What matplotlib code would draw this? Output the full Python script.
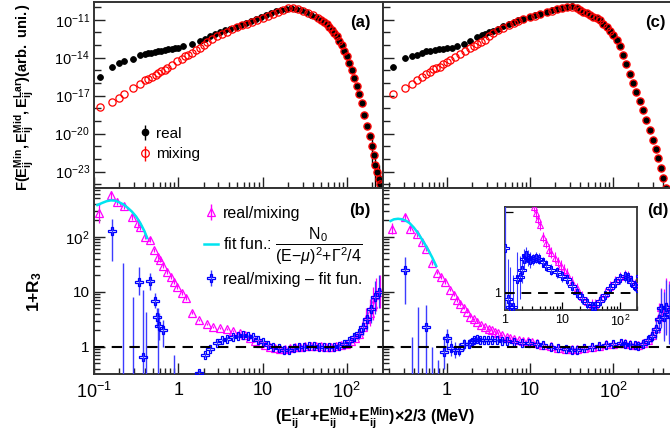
import numpy as np
import matplotlib
matplotlib.use("Agg")
import matplotlib.pyplot as plt
from matplotlib.ticker import FixedLocator, FixedFormatter, NullFormatter
from matplotlib.lines import Line2D

plt.rcParams["font.family"] = ["Liberation Sans", "DejaVu Sans"]
plt.rcParams["mathtext.fontset"] = "custom"
plt.rcParams["mathtext.rm"] = "Liberation Sans"
plt.rcParams["mathtext.it"] = "Liberation Sans:italic"
plt.rcParams["mathtext.bf"] = "Liberation Sans:bold"
plt.rcParams["mathtext.sf"] = "Liberation Sans"

# ---------------- data (log10 of energy in MeV, log10 of value) ----------------
# panel (a): F vs E, real and mixing
a_real_logE = [-0.93, -0.79, -0.70, -0.64, -0.54, -0.45, -0.40, -0.36, -0.32, -0.28,
               -0.24, -0.20, -0.16, -0.12, -0.08, -0.04, 0.00, 0.06, 0.16, 0.26,
               0.32, 0.38, 0.44, 0.50, 0.56, 0.62, 0.68, 0.74, 0.80, 0.86,
               0.92, 0.98, 1.04, 1.10, 1.16, 1.22, 1.28, 1.34, 1.40, 1.46,
               1.52, 1.58, 1.64, 1.70, 1.73, 1.76, 1.79, 1.82, 1.85, 1.88,
               1.91, 1.94, 1.97, 2.00, 2.03, 2.06, 2.09, 2.12, 2.15, 2.18,
               2.21, 2.24, 2.27, 2.30, 2.32, 2.34, 2.36, 2.38, 2.40]
a_real_logF = [-15.5, -14.7, -14.4, -14.3, -14.1, -13.8, -13.7, -13.65, -13.6, -13.55,
               -13.5, -13.45, -13.4, -13.35, -13.3, -13.25, -13.2, -13.1, -12.9, -12.7,
               -12.5, -12.3, -12.15, -12.0, -11.85, -11.7, -11.55, -11.4, -11.25, -11.1,
               -10.95, -10.8, -10.65, -10.5, -10.35, -10.25, -10.15, -10.1, -10.12, -10.25,
               -10.4, -10.6, -10.8, -11.0, -11.15, -11.3, -11.55, -11.8, -12.05, -12.3,
               -12.65, -13.0, -13.45, -13.9, -14.45, -15.0, -15.6, -16.2, -16.9, -17.6,
               -18.5, -19.4, -20.2, -21.0, -21.7, -22.5, -23.0, -23.6, -24.0]
a_mix_logE = [-0.93, -0.79, -0.70, -0.64, -0.54, -0.45, -0.40, -0.36, -0.31, -0.27,
              -0.24, -0.20, -0.16, -0.13, -0.08, -0.02, 0.04, 0.08, 0.12, 0.16,
              0.21, 0.26, 0.30, 0.34, 0.40, 0.46, 0.52, 0.58, 0.64, 0.70,
              0.76, 0.82, 0.88, 0.94, 1.00, 1.06, 1.12, 1.18, 1.24, 1.30,
              1.36, 1.42, 1.48, 1.54, 1.60, 1.66, 1.70, 1.73, 1.76, 1.79,
              1.82, 1.85, 1.88, 1.91, 1.94, 1.97, 2.00, 2.03, 2.06, 2.09,
              2.12, 2.15, 2.18, 2.21, 2.24, 2.27, 2.30, 2.32, 2.34, 2.36, 2.38, 2.40]
a_mix_logF = [-17.9, -17.5, -17.2, -16.9, -16.4, -16.1, -15.8, -15.65, -15.5, -15.35,
              -15.2, -15.05, -14.95, -14.8, -14.6, -14.3, -14.1, -13.9, -13.75, -13.6,
              -13.4, -13.2, -13.0, -12.8, -12.55, -12.3, -12.1, -12.0, -11.75, -11.6,
              -11.45, -11.3, -11.15, -11.0, -10.85, -10.7, -10.55, -10.4, -10.2, -10.1,
              -10.1, -10.15, -10.3, -10.45, -10.65, -10.85, -11.0, -11.15, -11.3, -11.55,
              -11.8, -12.05, -12.3, -12.65, -13.0, -13.45, -13.9, -14.45, -15.0, -15.6,
              -16.2, -16.9, -17.6, -18.5, -19.4, -20.2, -21.0, -21.7, -22.5, -23.0, -23.6, -24.0]
a_tail_logE = [2.30, 2.34, 2.38, 2.40]
a_tail_logLo = [-22.5, -24.5, -24.5, -24.5]
a_tail_logHi = [-20.0, -21.5, -22.5, -23.0]

# panel (c)
c_real_logE = [-0.65, -0.51, -0.42, -0.36, -0.30, -0.25, -0.20, -0.15, -0.10, -0.05,
               0.00, 0.06, 0.12, 0.20, 0.28, 0.36, 0.42, 0.46, 0.51, 0.55,
               0.61, 0.67, 0.74, 0.80, 0.86, 0.92, 1.00, 1.06, 1.12, 1.20,
               1.26, 1.32, 1.38, 1.44, 1.50, 1.56, 1.60, 1.64, 1.68, 1.72,
               1.76, 1.80, 1.84, 1.88, 1.92, 1.96, 2.00, 2.04, 2.08, 2.12,
               2.16, 2.20, 2.24, 2.28, 2.32, 2.36, 2.40, 2.44, 2.48, 2.51,
               2.54, 2.57, 2.60, 2.63]
c_real_logF = [-14.7, -14.0, -13.9, -13.8, -13.65, -13.5, -13.45, -13.4, -13.35, -13.3,
               -13.25, -13.2, -13.1, -12.9, -12.7, -12.4, -12.2, -12.1, -12.0, -11.9,
               -11.7, -11.5, -11.35, -11.2, -11.05, -10.95, -10.8, -10.65, -10.55, -10.4,
               -10.25, -10.15, -10.05, -9.97, -9.95, -10.05, -10.2, -10.4, -10.5, -10.65,
               -10.75, -10.85, -11.0, -11.3, -11.6, -11.9, -12.2, -12.6, -13.1, -13.8,
               -14.5, -15.3, -16.0, -16.7, -17.4, -18.1, -18.9, -19.7, -20.5, -21.2,
               -21.9, -22.7, -23.5, -24.3]
c_mix_logE = [-0.65, -0.51, -0.42, -0.36, -0.30, -0.25, -0.21, -0.17, -0.13, -0.09,
              -0.05, 0.00, 0.04, 0.10, 0.16, 0.22, 0.28, 0.32, 0.36, 0.41,
              0.46, 0.51, 0.55, 0.61, 0.67, 0.74, 0.80, 0.86, 0.92, 1.00,
              1.06, 1.12, 1.20, 1.26, 1.32, 1.38, 1.44, 1.50, 1.56, 1.60,
              1.64, 1.68, 1.72, 1.76, 1.80, 1.84, 1.88, 1.92, 1.96, 2.00,
              2.04, 2.08, 2.12, 2.16, 2.20, 2.24, 2.28, 2.32, 2.36, 2.40,
              2.44, 2.48, 2.51, 2.54, 2.57, 2.60, 2.63]
c_mix_logF = [-16.9, -16.4, -16.1, -15.8, -15.55, -15.3, -15.1, -14.9, -14.8, -14.7,
              -14.5, -14.35, -14.2, -13.95, -13.7, -13.45, -13.2, -13.05, -12.9, -12.75,
              -12.6, -12.3, -12.05, -11.85, -11.65, -11.42, -11.25, -11.1, -10.98, -10.82,
              -10.68, -10.56, -10.42, -10.28, -10.17, -10.06, -9.97, -9.96, -10.05, -10.2,
              -10.4, -10.5, -10.65, -10.75, -10.85, -11.0, -11.3, -11.6, -11.9, -12.2,
              -12.6, -13.1, -13.8, -14.5, -15.3, -16.0, -16.7, -17.4, -18.1, -18.9,
              -19.7, -20.5, -21.2, -21.9, -22.7, -23.5, -24.3]

# panel (b): 1+R3 (real/mixing), fit, and real/mixing - fit
b_ratio_logE = [-0.94, -0.80, -0.73, -0.64, -0.55, -0.48, -0.45, -0.40, -0.33, -0.29,
                -0.24, -0.22, -0.18, -0.13, -0.09, -0.05, -0.02, 0.04, 0.09, 0.16,
                0.25, 0.34, 0.41, 0.49, 0.58, 0.65, 0.73, 0.79, 0.85, 0.91,
                0.97, 1.03, 1.09, 1.15, 1.21, 1.27, 1.33, 1.39, 1.45, 1.51,
                1.57, 1.63, 1.69, 1.75, 1.81, 1.87, 1.93, 1.99, 2.05, 2.10,
                2.15, 2.19, 2.23, 2.27, 2.31, 2.35, 2.39]
b_ratio_logV = [2.44, 2.76, 2.64, 2.56, 2.36, 2.25, 2.18, 2.00, 1.95, 1.76,
                1.64, 1.58, 1.47, 1.36, 1.27, 1.18, 1.09, 0.98, 0.89, 0.62,
                0.49, 0.42, 0.36, 0.34, 0.33, 0.29, 0.25, 0.21, 0.16, 0.11,
                0.07, 0.03, 0.00, -0.02, -0.04, -0.04, -0.03, -0.01, 0.00, 0.01,
                0.02, 0.02, 0.01, 0.00, 0.00, 0.01, 0.03, 0.06, 0.10, 0.16,
                0.24, 0.36, 0.50, 0.62, 0.78, 0.95, 1.00]
b_ratio_dlog = [0.18, 0.07, 0.06, 0.06, 0.05, 0.05, 0.05, 0.04, 0.04, 0.04,
                0.04, 0.04, 0.03, 0.03, 0.03, 0.03, 0.03, 0.03, 0.03, 0.03,
                0.02, 0.02, 0.02, 0.02, 0.02, 0.02, 0.02, 0.02, 0.02, 0.02,
                0.02, 0.02, 0.02, 0.02, 0.02, 0.02, 0.02, 0.02, 0.02, 0.02,
                0.02, 0.02, 0.02, 0.02, 0.02, 0.02, 0.03, 0.04, 0.05, 0.07,
                0.10, 0.15, 0.20, 0.25, 0.30, 0.30, 0.30]
b_fit_logE = [-0.96, -0.90, -0.85, -0.80, -0.75, -0.70, -0.65, -0.60, -0.55, -0.50,
              -0.45, -0.40, -0.37]
b_fit_logV = [2.58, 2.62, 2.65, 2.665, 2.66, 2.63, 2.59, 2.53, 2.46, 2.37,
              2.25, 2.10, 1.98]
b_diff_logE = [0.25, 0.32, 0.38, 0.46, 0.52, 0.58, 0.65, 0.71, 0.77, 0.83,
               0.89, 0.95, 1.01, 1.07, 1.13, 1.19, 1.25, 1.31, 1.37, 1.43,
               1.49, 1.55, 1.61, 1.67, 1.73, 1.79, 1.85, 1.91, 1.97, 2.03,
               2.09, 2.14, 2.19, 2.24, 2.29, 2.34, 2.38]
b_diff_logV = [-0.47, -0.15, -0.04, 0.07, 0.12, 0.15, 0.18, 0.20, 0.21, 0.20,
               0.18, 0.12, 0.08, 0.04, 0.00, -0.03, -0.05, -0.05, -0.03, -0.01,
               0.00, 0.01, 0.01, 0.00, -0.01, -0.01, 0.00, 0.02, 0.05, 0.10,
               0.18, 0.25, 0.36, 0.50, 0.68, 0.90, 1.00]
b_diff_dlog = [0.05, 0.04, 0.03, 0.03, 0.02, 0.02, 0.02, 0.02, 0.02, 0.02,
               0.02, 0.02, 0.02, 0.02, 0.02, 0.02, 0.02, 0.02, 0.02, 0.02,
               0.02, 0.02, 0.02, 0.02, 0.02, 0.02, 0.03, 0.03, 0.04, 0.05,
               0.07, 0.10, 0.15, 0.20, 0.25, 0.30, 0.30]
b_sparse_logE = [-0.79, -0.47, -0.42, -0.33, -0.28, -0.25, -0.23, -0.18]
b_sparse_logV = [2.11, 1.18, -0.18, 1.20, 0.84, 0.55, 0.38, 0.31]
b_sparse_logHi = [2.33, 1.45, 1.04, 1.35, 0.98, 0.71, 0.62, 0.49]
b_sparse_logLo = [1.56, 0.95, -0.60, 1.04, 0.71, 0.36, 0.13, 0.00]
b_offscale_logE = [-0.65, -0.54, -0.38, -0.24, -0.05]
b_offscale_logHi = [1.53, 0.91, 0.64, 0.71, -0.15]

# panel (d)
d_ratio_logE = [-0.66, -0.51, -0.45, -0.36, -0.30, -0.25, -0.18, -0.12, -0.07, -0.02,
                0.04, 0.08, 0.12, 0.16, 0.20, 0.24, 0.28, 0.32, 0.36, 0.41,
                0.46, 0.50, 0.54, 0.58, 0.61, 0.66, 0.72, 0.76, 0.81, 0.87,
                0.92, 0.97, 1.02, 1.08, 1.16, 1.25, 1.34, 1.43, 1.51, 1.57,
                1.65, 1.74, 1.83, 1.91, 2.00, 2.09, 2.14, 2.20, 2.26, 2.30,
                2.36, 2.42, 2.47, 2.51, 2.55, 2.58, 2.61, 2.64, 2.67]
d_ratio_logV = [2.15, 2.36, 2.15, 2.05, 1.90, 1.78, 1.53, 1.35, 1.27, 1.18,
                1.04, 0.95, 0.85, 0.78, 0.71, 0.63, 0.55, 0.50, 0.45, 0.40,
                0.36, 0.32, 0.297, 0.275, 0.253, 0.208, 0.185, 0.161, 0.149, 0.130,
                0.114, 0.100, 0.085, 0.070, 0.040, 0.015, -0.015, -0.035, -0.045, -0.045,
                -0.025, -0.005, 0.022, 0.042, 0.058, 0.066, 0.062, 0.046, 0.030, 0.025,
                0.07, 0.13, 0.22, 0.35, 0.55, 0.72, 0.60, 0.75, 0.65]
d_ratio_dlog = [0.10, 0.06, 0.05, 0.05, 0.04, 0.04, 0.04, 0.03, 0.03, 0.03,
                0.03, 0.03, 0.03, 0.03, 0.03, 0.02, 0.02, 0.02, 0.02, 0.02,
                0.02, 0.02, 0.02, 0.02, 0.02, 0.02, 0.02, 0.02, 0.02, 0.02,
                0.02, 0.02, 0.02, 0.02, 0.02, 0.02, 0.02, 0.02, 0.02, 0.02,
                0.02, 0.02, 0.02, 0.02, 0.02, 0.02, 0.02, 0.02, 0.02, 0.02,
                0.04, 0.07, 0.12, 0.18, 0.25, 0.35, 0.45, 0.50, 0.55]
d_fit_logE = [-0.68, -0.64, -0.59, -0.54, -0.49, -0.45, -0.40, -0.35, -0.30, -0.24,
              -0.18, -0.13]
d_fit_logV = [2.29, 2.32, 2.33, 2.32, 2.29, 2.25, 2.17, 2.07, 1.95, 1.80,
              1.63, 1.47]
d_diff_logE = [0.05, 0.09, 0.14, 0.21, 0.26, 0.30, 0.33, 0.36, 0.40, 0.44,
               0.49, 0.54, 0.60, 0.66, 0.72, 0.81, 0.90, 0.99, 1.08, 1.16,
               1.25, 1.34, 1.43, 1.51, 1.57, 1.65, 1.74, 1.83, 1.91, 2.00,
               2.09, 2.14, 2.20, 2.26, 2.30, 2.36, 2.42, 2.47, 2.51, 2.55,
               2.58, 2.61, 2.64, 2.67]
d_diff_logV = [-0.026, -0.055, -0.055, 0.050, 0.057, 0.086, 0.124, 0.140, 0.130, 0.120,
               0.124, 0.130, 0.127, 0.114, 0.100, 0.086, 0.075, 0.061, 0.049, 0.025,
               0.000, -0.022, -0.041, -0.050, -0.050, -0.030, -0.010, 0.017, 0.037, 0.053,
               0.061, 0.057, 0.041, 0.025, 0.017, 0.06, 0.12, 0.20, 0.33, 0.50,
               0.70, 0.55, 0.72, 0.60]
d_diff_dlog = [0.15, 0.15, 0.12, 0.10, 0.08, 0.05, 0.04, 0.03, 0.03, 0.03,
               0.02, 0.02, 0.02, 0.02, 0.02, 0.02, 0.02, 0.02, 0.02, 0.02,
               0.02, 0.02, 0.02, 0.02, 0.02, 0.02, 0.02, 0.02, 0.02, 0.02,
               0.02, 0.02, 0.02, 0.02, 0.02, 0.04, 0.07, 0.12, 0.18, 0.25,
               0.35, 0.45, 0.50, 0.55]
d_sparse_logE = [-0.51, -0.25, -0.04, 0.00]
d_sparse_logV = [1.40, 0.36, -0.09, 0.166]
d_sparse_logHi = [1.64, 0.76, 0.20, 0.33]
d_sparse_logLo = [0.78, -0.60, -0.40, -0.06]
d_offscale_logE = [-0.42, -0.35, -0.18, -0.11]
d_offscale_logHi = [0.18, 0.73, 0.00, -0.24]

x_ticks = [0.1, 1, 10, 100]
x_ticklabels = [r"$10^{-1}$", "1", "10", r"$10^{2}$"]
ratio_ticks = [1, 10, 100]
ratio_ticklabels = ["1", "10", r"$10^{2}$"]
F_ticks = [1e-23, 1e-20, 1e-17, 1e-14, 1e-11]

# ---------------- styling ----------------
BLACK = "#000000"
RED = "#ff0000"
MAG = "#ff00ff"
BLUE = "#0000ff"
EBLUE = "#3c3cff"
CYAN = "#00e4f0"
FRAME = "#333333"


def P(v):
    return 10.0 ** np.asarray(v, dtype=float)


W, H = 670.0, 437.0
fig = plt.figure(figsize=(6.7, 4.37), dpi=100)


def box(x0, y0, x1, y1):
    return [x0 / W, 1 - y1 / H, (x1 - x0) / W, (y1 - y0) / H]


axA = fig.add_axes(box(94, 2, 383, 188))
axC = fig.add_axes(box(383, 2, 673, 188))
axB = fig.add_axes(box(94, 188, 383, 374))
axD = fig.add_axes(box(383, 188, 673, 374))

for ax in (axA, axB, axC, axD):
    ax.set_xscale("log")
    ax.set_yscale("log")
    for s in ax.spines.values():
        s.set_color(FRAME)
        s.set_linewidth(1.4)
    ax.tick_params(which="both", direction="in", top=False, right=False,
                   color="#222222", width=1.0)
    ax.tick_params(which="major", length=8)
    ax.tick_params(which="minor", length=4)

for ax in (axA, axB):
    ax.set_xlim(0.1, 10 ** 2.43)
for ax in (axC, axD):
    ax.set_xlim(10 ** -0.771, 10 ** 2.72)
for ax in (axA, axC):
    ax.set_ylim(10 ** -24.3, 10 ** -9.6)
    ax.yaxis.set_major_locator(FixedLocator(F_ticks))
    ax.yaxis.set_minor_locator(FixedLocator([10.0 ** k for k in range(-24, -9)]))
    ax.xaxis.set_major_formatter(NullFormatter())
    ax.xaxis.set_minor_formatter(NullFormatter())
    ax.yaxis.set_minor_formatter(NullFormatter())
    ax.tick_params(axis="y", which="minor", length=5)
for ax in (axB, axD):
    ax.set_ylim(0.32, 776)
    ax.yaxis.set_major_locator(FixedLocator(ratio_ticks))
    ax.yaxis.set_major_formatter(FixedFormatter(ratio_ticklabels))
    ax.yaxis.set_minor_locator(FixedLocator([m * 10.0 ** k for k in range(-1, 3) for m in range(2, 10)]))
    ax.yaxis.set_minor_formatter(NullFormatter())
for ax in (axA, axB, axC, axD):
    ax.xaxis.set_major_locator(FixedLocator(x_ticks))
    ax.xaxis.set_minor_locator(FixedLocator([m * 10.0 ** k for k in range(-1, 3) for m in range(2, 10)]))
    ax.xaxis.set_minor_formatter(NullFormatter())
for ax in (axB, axD):
    ax.xaxis.set_major_formatter(FixedFormatter(x_ticklabels))
    ax.tick_params(axis="x", which="major", labelsize=13, pad=6)
axA.tick_params(axis="y", labelsize=10.5, pad=3)
axB.tick_params(axis="y", labelsize=11, pad=3)
for ax in (axC, axD):
    ax.yaxis.set_major_formatter(NullFormatter())

# ---------------- top panels ----------------
def draw_F(ax, rlx, rly, mlx, mly):
    hr = ax.errorbar(P(rlx), P(rly), yerr=None, fmt="o", color=BLACK, ms=4.2,
                     mew=0.6, zorder=3)
    hm = ax.errorbar(P(mlx), P(mly), yerr=None, fmt="o", mfc="none", mec=RED,
                     color=RED, ms=5.2, mew=0.9, zorder=4)
    return hr, hm


hrA, hmA = draw_F(axA, a_real_logE, a_real_logF, a_mix_logE, a_mix_logF)
ta = P(a_tail_logE)
axA.vlines(ta, P(a_tail_logLo), P(a_tail_logHi), color=BLACK, lw=1.0, zorder=3)
draw_F(axC, c_real_logE, c_real_logF, c_mix_logE, c_mix_logF)

# legend handles with vertical error bar
leg_real = axA.errorbar([], [], yerr=[], fmt="o", color=BLACK, ms=4.5, elinewidth=1)
leg_mix = axA.errorbar([], [], yerr=[], fmt="o", mfc="none", mec=RED, color=RED,
                       ms=5.5, mew=0.9, elinewidth=1)
axA.legend([leg_real, leg_mix], ["real", "mixing"], loc="upper left",
           bbox_to_anchor=(0.150, 0.33), frameon=False, fontsize=11,
           handlelength=1.0, handletextpad=0.2, labelspacing=0.45,
           borderpad=0, borderaxespad=0)


# ---------------- ratio panels ----------------
def sym_err(ly, dl):
    ly = np.asarray(ly, float)
    dl = np.asarray(dl, float)
    v = 10 ** ly
    return v, [v - 10 ** (ly - dl), 10 ** (ly + dl) - v]


def draw_ratio(ax, rlx, rly, rdl, dlx, dly, ddl, slx, sly, shi, slo, olx, ohi, flx, fly):
    v, e = sym_err(rly, rdl)
    hp = ax.errorbar(P(rlx), v, yerr=e, fmt="^", mfc="none", mec=MAG, color=MAG,
                     ms=5.6, mew=0.9, elinewidth=0.9, zorder=3)
    v, e = sym_err(dly, ddl)
    hb = ax.errorbar(P(dlx), v, yerr=e, fmt="P", mfc="none", mec=BLUE, ecolor=EBLUE,
                     ms=5.8, mew=0.9, elinewidth=0.9, zorder=4)
    sv = P(sly)
    ax.errorbar(P(slx), sv, yerr=[sv - P(slo), P(shi) - sv], fmt="P", mfc="none",
                mec=BLUE, ecolor=EBLUE, ms=5.8, mew=0.9, elinewidth=1.0, zorder=4)
    ax.vlines(P(olx), 0.05, P(ohi), color=EBLUE, lw=1.0, zorder=4)
    hf, = ax.plot(P(flx), P(fly), color=CYAN, lw=1.8, zorder=5)
    ax.axhline(1.0, color=BLACK, lw=1.5, ls=(0, (5, 3.5)), zorder=6)
    return hp, hf, hb


hpB, hfB, hbB = draw_ratio(axB, b_ratio_logE, b_ratio_logV, b_ratio_dlog,
                           b_diff_logE, b_diff_logV, b_diff_dlog,
                           b_sparse_logE, b_sparse_logV, b_sparse_logHi, b_sparse_logLo,
                           b_offscale_logE, b_offscale_logHi, b_fit_logE, b_fit_logV)
draw_ratio(axD, d_ratio_logE, d_ratio_logV, d_ratio_dlog,
           d_diff_logE, d_diff_logV, d_diff_dlog,
           d_sparse_logE, d_sparse_logV, d_sparse_logHi, d_sparse_logLo,
           d_offscale_logE, d_offscale_logHi, d_fit_logE, d_fit_logV)

leg_p = axB.errorbar([], [], yerr=[], fmt="^", mfc="none", mec=MAG, color=MAG,
                     ms=6, mew=0.9, elinewidth=1)
leg_f = Line2D([], [], color=CYAN, lw=1.8)
leg_b = axB.errorbar([], [], yerr=[], fmt="P", mfc="none", mec=BLUE, ecolor=EBLUE,
                     ms=6, mew=0.9, elinewidth=1)
axB.legend([leg_p, leg_f, leg_b],
           ["real/mixing",
            r"fit fun.: $\dfrac{\mathrm{N}_0}{(\mathrm{E}{-}\mu)^2{+}\Gamma^2/4}$",
            "real/mixing \u2013 fit fun."],
           loc="upper left", bbox_to_anchor=(0.382, 0.905), frameon=False,
           fontsize=11.5, handlelength=0.85, handletextpad=0.3, labelspacing=0.3,
           borderpad=0, borderaxespad=0)

# ---------------- inset in (d) ----------------
axI = fig.add_axes(box(505, 207, 637, 310))
axI.set_xscale("log")
axI.set_yscale("log")
axI.set_xlim(1, 200)
axI.set_ylim(0.86, 2.09)
axI.set_facecolor("white")
for s in axI.spines.values():
    s.set_color(FRAME)
    s.set_linewidth(1.3)
v, e = sym_err(d_ratio_logV, d_ratio_dlog)
axI.errorbar(P(d_ratio_logE), v, yerr=e, fmt="^", mfc="none", mec=MAG, color=MAG,
             ms=5.0, mew=0.8, elinewidth=0.8, zorder=3)
v, e = sym_err(d_diff_logV, d_diff_dlog)
axI.errorbar(P(d_diff_logE), v, yerr=e, fmt="P", mfc="none", mec=BLUE, ecolor=EBLUE,
             ms=5.2, mew=0.8, elinewidth=0.8, zorder=4)
sv = P(d_sparse_logV)
axI.errorbar(P(d_sparse_logE), sv, yerr=[sv - P(d_sparse_logLo), P(d_sparse_logHi) - sv],
             fmt="P", mfc="none", mec=BLUE, ecolor=EBLUE, ms=5.2, mew=0.8,
             elinewidth=0.9, zorder=4)
axI.axhline(1.0, color=BLACK, lw=1.4, ls=(0, (5, 3.5)), zorder=6)
axI.xaxis.set_major_locator(FixedLocator([1, 10, 100]))
axI.xaxis.set_major_formatter(FixedFormatter(["1", "10", r"$10^{2}$"]))
axI.xaxis.set_minor_locator(FixedLocator([m * 10.0 ** k for k in range(0, 3) for m in range(2, 10)]))
axI.xaxis.set_minor_formatter(NullFormatter())
axI.yaxis.set_major_locator(FixedLocator([1, 2]))
axI.yaxis.set_major_formatter(FixedFormatter(["1", ""]))
axI.yaxis.set_minor_locator(FixedLocator([]))
axI.tick_params(which="both", direction="in", top=False, right=False, labelsize=9,
                width=0.9, pad=3)
axI.tick_params(which="major", length=6)
axI.tick_params(which="minor", length=3)

# ---------------- texts ----------------
def ftext(px, py, s, **kw):
    fig.text(px / W, 1 - py / H, s, **kw)


for lab, px, py in (("(a)", 360, 22), ("(b)", 360, 210), ("(c)", 655, 22), ("(d)", 658, 210)):
    ftext(px, py, lab, ha="center", va="center", fontsize=12, fontweight="bold")

ftext(24, 97, r"$\mathbf{F(E_{ij}^{Min},E_{ij}^{Mid},E_{ij}^{Lar})(arb.\ uni.)}$",
      rotation=90, ha="center", va="center", fontsize=10.6)
ftext(35, 292, r"$\mathbf{1{+}R_3}$", rotation=90, ha="center", va="center", fontsize=12.5)
ftext(375, 418, r"$\mathbf{(E_{ij}^{Lar}{+}E_{ij}^{Mid}{+}E_{ij}^{Min}){\times}2/3\ (MeV)}$",
      ha="center", va="center", fontsize=11.5)

fig.savefig("out.png", dpi=100)
